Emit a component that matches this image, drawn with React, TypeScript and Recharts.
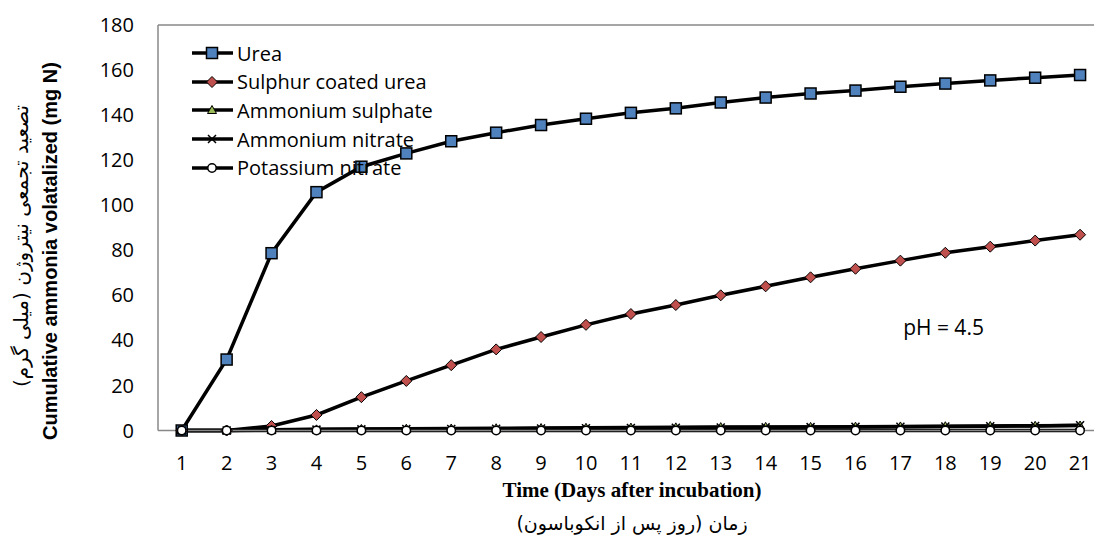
import { LineChart, Line, XAxis, YAxis, Legend, ReferenceLine, ReferenceDot, Label } from "recharts";

const days = [1, 2, 3, 4, 5, 6, 7, 8, 9, 10, 11, 12, 13, 14, 15, 16, 17, 18, 19, 20, 21];
const urea = [0, 31.5, 78.7, 105.8, 117.1, 123, 128.4, 132.2, 135.6, 138.4, 141, 143, 145.6, 147.8, 149.6, 150.9, 152.6, 154, 155.4, 156.6, 157.8];
const sulphurCoatedUrea = [0, 0, 2, 6.9, 14.8, 22, 29, 36, 41.5, 46.9, 51.7, 55.7, 60, 64, 68, 71.8, 75.4, 78.9, 81.6, 84.3, 86.9];
const ammoniumSulphate = [0, 0, 0.3, 0.5, 0.7, 0.8, 0.9, 1, 1.1, 1.2, 1.3, 1.4, 1.5, 1.6, 1.6, 1.7, 1.8, 1.9, 2, 2.1, 2.2];
const ammoniumNitrate = [0, 0, 0.2, 0.4, 0.5, 0.6, 0.7, 0.8, 0.9, 1, 1.1, 1.2, 1.3, 1.4, 1.5, 1.6, 1.7, 1.8, 1.9, 2, 2.3];
const potassiumNitrate = [0, 0, 0, 0, 0, 0, 0, 0, 0, 0, 0, 0, 0, 0, 0, 0, 0, 0, 0, 0, 0];
const yTicks = [0, 20, 40, 60, 80, 100, 120, 140, 160, 180];

const data = days.map((day, i) => ({
  day,
  urea: urea[i],
  scu: sulphurCoatedUrea[i],
  as: ammoniumSulphate[i],
  an: ammoniumNitrate[i],
  pn: potassiumNitrate[i],
}));

const series = [
  { key: "urea", name: "Urea", marker: "square" },
  { key: "scu", name: "Sulphur coated urea", marker: "diamond" },
  { key: "as", name: "Ammonium sulphate", marker: "triangle" },
  { key: "an", name: "Ammonium nitrate", marker: "cross" },
  { key: "pn", name: "Potassium nitrate", marker: "circle" },
];

const FONT = "'Open Sans', sans-serif";
const AXIS_GREY = "#888888";
const RLM = "\u200F";

function Marker({ kind, cx, cy }: { kind: string; cx: number; cy: number }) {
  if (kind === "square")
    return <rect x={cx - 5.5} y={cy - 5.5} width={11} height={11} fill="#4F81BD" stroke="#000" strokeWidth={1.5} />;
  if (kind === "diamond")
    return (
      <path
        d={`M${cx},${cy - 5.5} L${cx + 5.5},${cy} L${cx},${cy + 5.5} L${cx - 5.5},${cy} Z`}
        fill="#C0504D"
        stroke="#000"
        strokeWidth={1}
      />
    );
  if (kind === "triangle")
    return (
      <path
        d={`M${cx},${cy - 4.5} L${cx + 4.5},${cy + 3.5} L${cx - 4.5},${cy + 3.5} Z`}
        fill="#9BBB59"
        stroke="#000"
        strokeWidth={1}
      />
    );
  if (kind === "cross")
    return (
      <path
        d={`M${cx - 4},${cy - 4} L${cx + 4},${cy + 4} M${cx - 4},${cy + 4} L${cx + 4},${cy - 4}`}
        stroke="#000"
        strokeWidth={1.5}
      />
    );
  return <circle cx={cx} cy={cy} r={4.2} fill="#fff" stroke="#000" strokeWidth={1.5} />;
}

const dotFor = (kind: string) => (props: any) =>
  <Marker key={`${kind}-${props.index}`} kind={kind} cx={props.cx} cy={props.cy} />;

const LegendBox = () => (
  <div style={{ fontFamily: FONT, fontSize: 20, color: "#000" }}>
    {series.map((s) => (
      <div key={s.key} style={{ display: "flex", alignItems: "center", height: 28.6 }}>
        <svg width={44} height={20} style={{ marginRight: 2 }}>
          <line x1={1} y1={10} x2={42} y2={10} stroke="#000" strokeWidth={3.5} />
          <Marker kind={s.marker} cx={21} cy={10} />
        </svg>
        <span style={{ whiteSpace: "nowrap" }}>{s.name}</span>
      </div>
    ))}
  </div>
);

export default function App() {
  return (
    <div style={{ position: "absolute", left: 0, top: 0, width: 1094, height: 540, overflow: "hidden", background: "#fff" }}>
      <LineChart width={1094} height={540} data={data} margin={{ top: 25, right: 0, left: 0, bottom: 0 }}>
        <XAxis
          dataKey="day"
          type="number"
          domain={[0.472, 21.31]}
          ticks={days}
          interval={0}
          allowDataOverflow
          height={109.5}
          tickSize={0}
          tickMargin={25}
          axisLine={{ stroke: AXIS_GREY, strokeWidth: 1.5 }}
          tick={{ fill: "#000", fontSize: 20, fontFamily: FONT }}
        >
          <Label
            content={({ viewBox }: any) => {
              const cx = viewBox.x + viewBox.width / 2 + 6;
              return (
                <g>
                  <text x={cx} y={490} textAnchor="middle" dominantBaseline="central" fontFamily="'Liberation Serif', serif" fontWeight="bold" fontSize={21} fill="#000">
                    Time (Days after incubation)
                  </text>
                  <text x={cx} y={523} textAnchor="middle" dominantBaseline="central" direction="rtl" fontFamily="'DejaVu Sans', sans-serif" fontSize={19} fill="#000">
                    {RLM + "زمان (روز پس از انکوباسون)" + RLM}
                  </text>
                </g>
              );
            }}
          />
        </XAxis>
        <YAxis
          domain={[0, 180]}
          ticks={yTicks}
          width={158}
          tickSize={0}
          tickMargin={24}
          axisLine={{ stroke: AXIS_GREY, strokeWidth: 1.5 }}
          tick={{ fill: "#000", fontSize: 20, fontFamily: FONT }}
        >
          <Label
            content={() => (
              <g>
                <text x={50} y={251} transform="rotate(-90, 50, 251)" textAnchor="middle" dominantBaseline="central" fontFamily="'Liberation Sans', Arial, sans-serif" fontWeight="bold" fontSize={20} fill="#000">
                  Cumulative ammonia volatalized (mg N)
                </text>
                <text x={21} y={246} transform="rotate(-90, 21, 246)" textAnchor="middle" dominantBaseline="central" direction="rtl" fontFamily="'DejaVu Sans', sans-serif" fontSize={20} fill="#000">
                  {RLM + "تصعید تجمعی نیتروژن (میلی گرم)" + RLM}
                </text>
              </g>
            )}
          />
        </YAxis>
        <ReferenceLine y={180} stroke={AXIS_GREY} strokeWidth={1.5} />
        <ReferenceDot
          x={17.96}
          y={45.5}
          r={0}
          fill="none"
          stroke="none"
          label={{ value: "pH = 4.5", position: "center", fontSize: 21, fontFamily: FONT, fill: "#000" }}
        />
        <Legend
          layout="vertical"
          align="center"
          verticalAlign="middle"
          wrapperStyle={{ left: 191, top: 39, width: "auto" }}
          content={() => <LegendBox />}
        />
        {series.map((s) => (
          <Line
            key={s.key}
            dataKey={s.key}
            name={s.name}
            type="linear"
            stroke="#000"
            strokeWidth={3.5}
            dot={dotFor(s.marker)}
            activeDot={false}
            isAnimationActive={false}
          />
        ))}
      </LineChart>
    </div>
  );
}
